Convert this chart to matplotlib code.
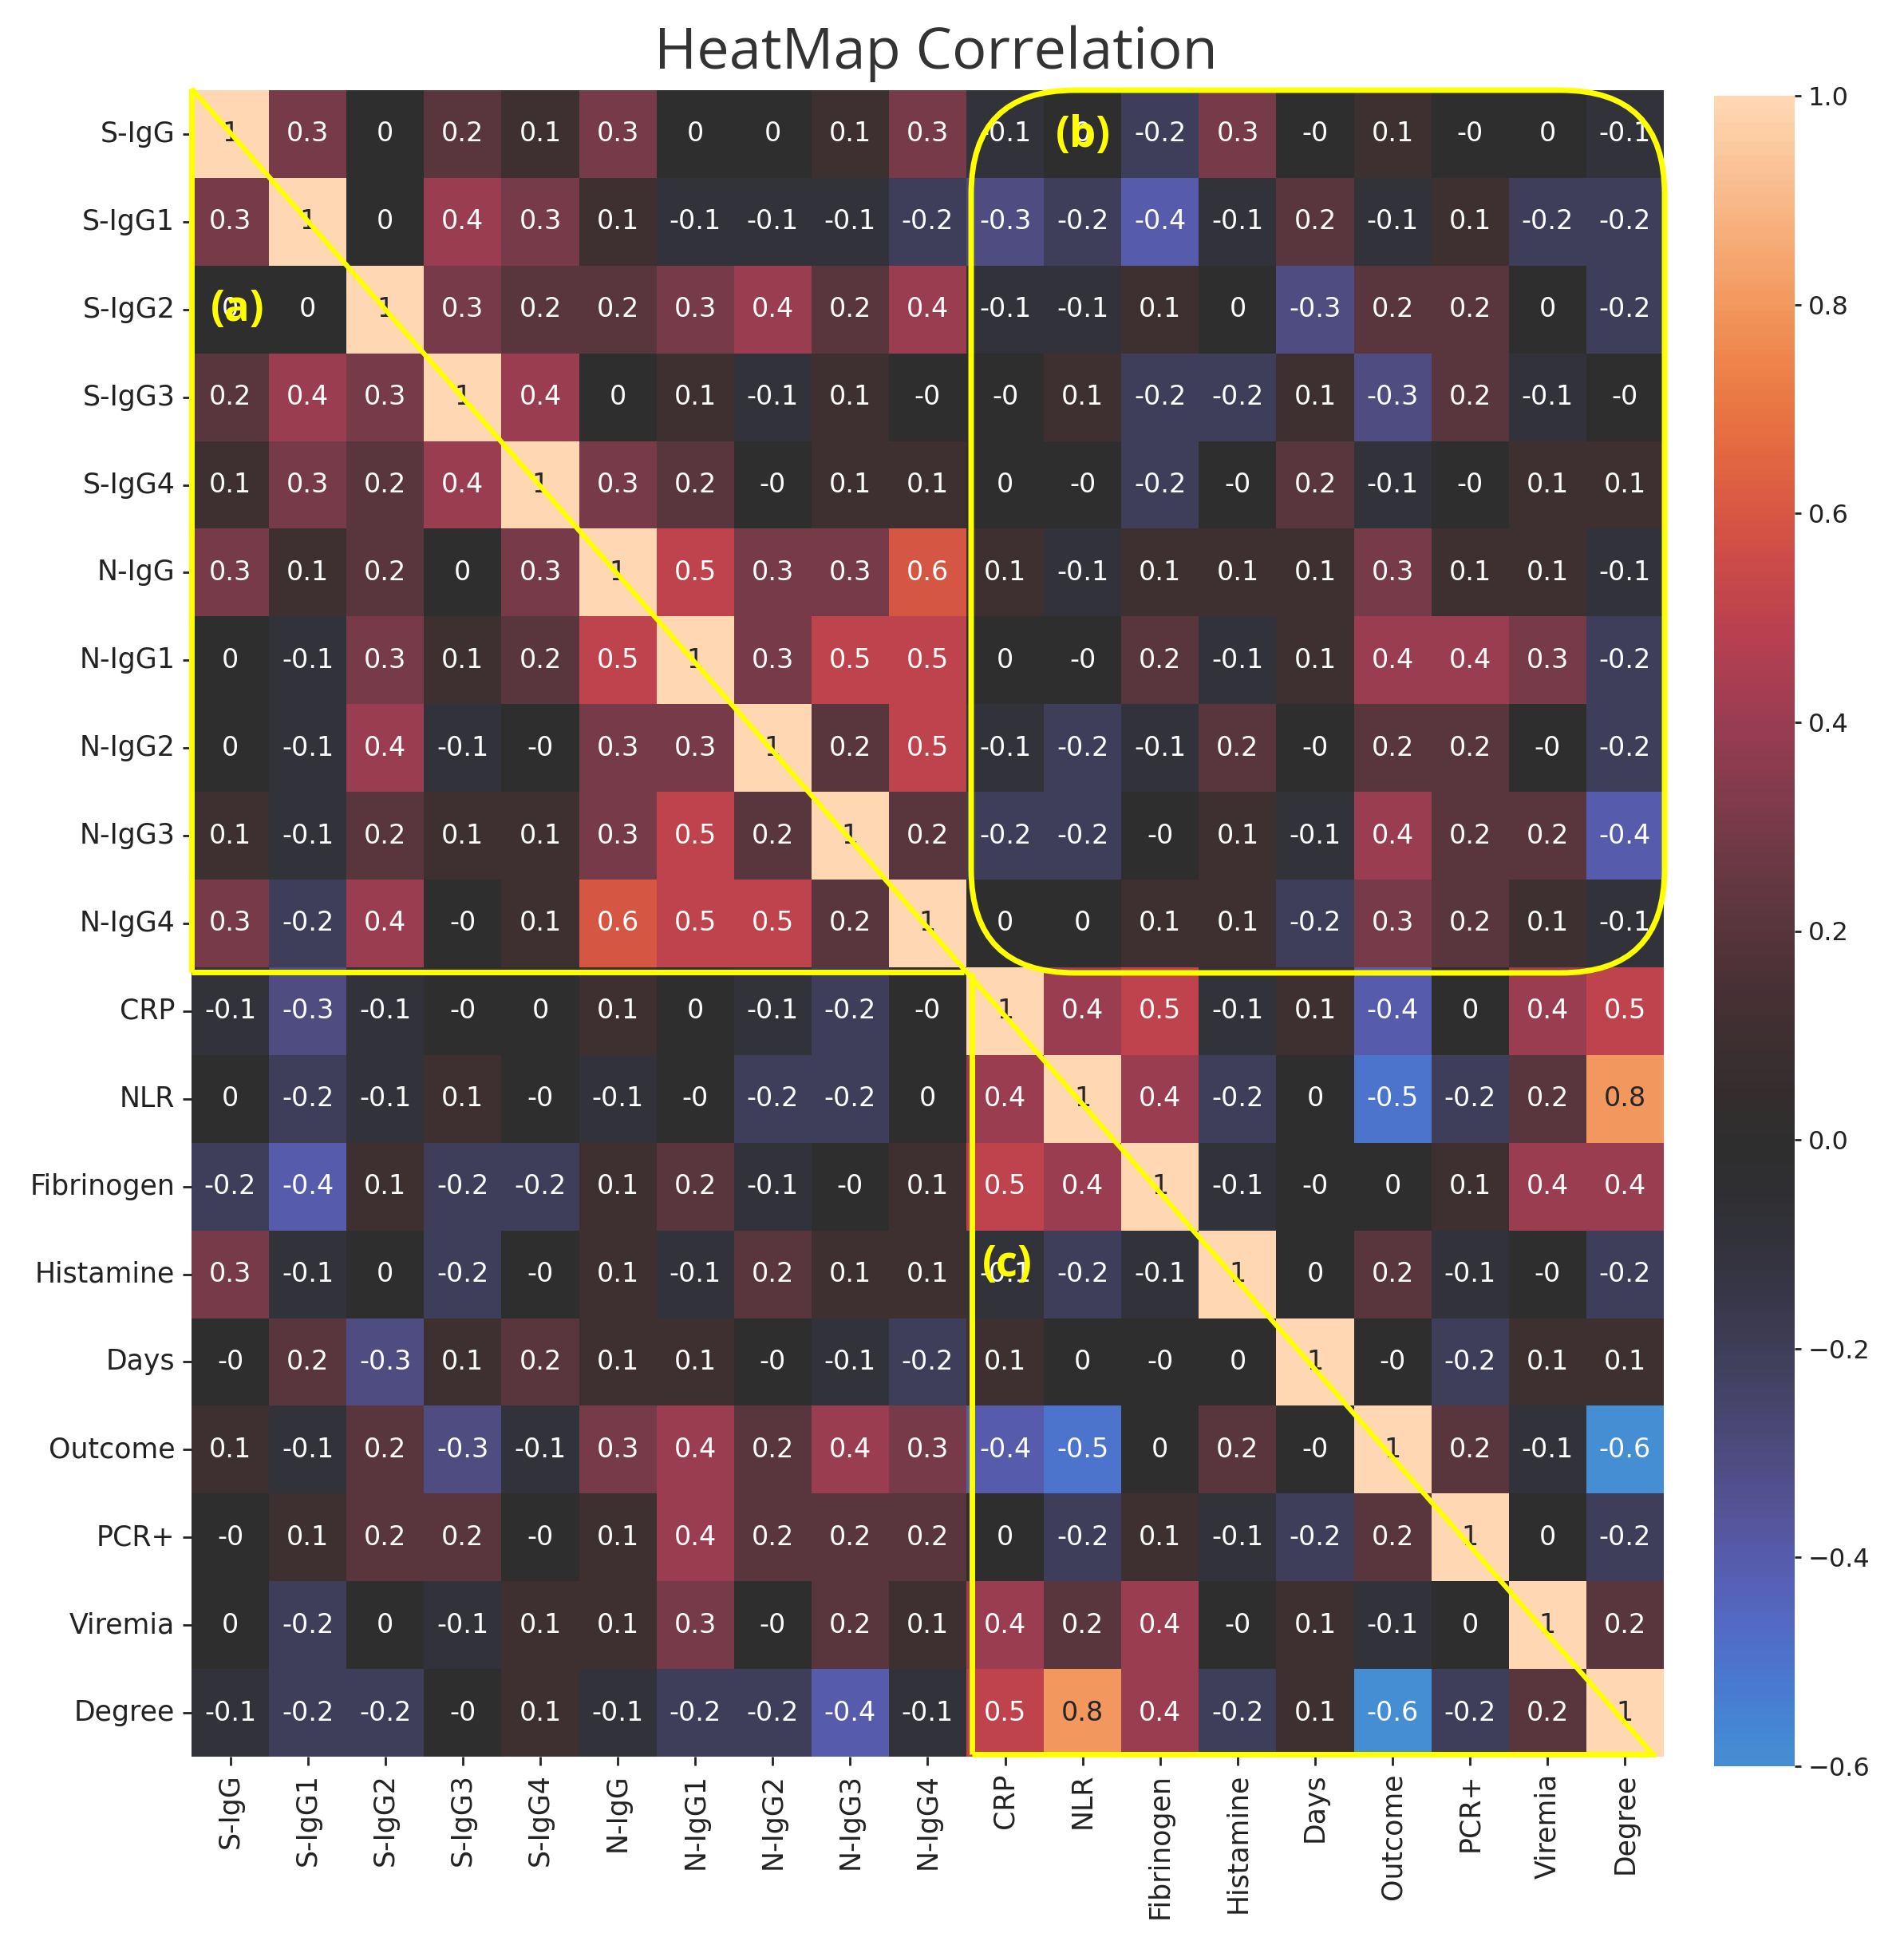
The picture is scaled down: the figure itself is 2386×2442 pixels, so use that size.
import numpy as np
import pandas as pd
import matplotlib
matplotlib.use("Agg")
import matplotlib.pyplot as plt
from matplotlib.patches import FancyBboxPatch
from matplotlib.colors import ListedColormap
import seaborn as sns

labels = ["S-IgG", "S-IgG1", "S-IgG2", "S-IgG3", "S-IgG4", "N-IgG", "N-IgG1",
          "N-IgG2", "N-IgG3", "N-IgG4", "CRP", "NLR", "Fibrinogen", "Histamine",
          "Days", "Outcome", "PCR+", "Viremia", "Degree"]

r_s_igg  = [1, 0.3, 0, 0.2, 0.1, 0.3, 0, 0, 0.1, 0.3, -0.1, 0, -0.2, 0.3, -0.0, 0.1, -0.0, 0, -0.1]
r_s_igg1 = [0.3, 1, 0, 0.4, 0.3, 0.1, -0.1, -0.1, -0.1, -0.2, -0.3, -0.2, -0.4, -0.1, 0.2, -0.1, 0.1, -0.2, -0.2]
r_s_igg2 = [0, 0, 1, 0.3, 0.2, 0.2, 0.3, 0.4, 0.2, 0.4, -0.1, -0.1, 0.1, 0, -0.3, 0.2, 0.2, 0, -0.2]
r_s_igg3 = [0.2, 0.4, 0.3, 1, 0.4, 0, 0.1, -0.1, 0.1, -0.0, -0.0, 0.1, -0.2, -0.2, 0.1, -0.3, 0.2, -0.1, -0.0]
r_s_igg4 = [0.1, 0.3, 0.2, 0.4, 1, 0.3, 0.2, -0.0, 0.1, 0.1, 0, -0.0, -0.2, -0.0, 0.2, -0.1, -0.0, 0.1, 0.1]
r_n_igg  = [0.3, 0.1, 0.2, 0, 0.3, 1, 0.5, 0.3, 0.3, 0.6, 0.1, -0.1, 0.1, 0.1, 0.1, 0.3, 0.1, 0.1, -0.1]
r_n_igg1 = [0, -0.1, 0.3, 0.1, 0.2, 0.5, 1, 0.3, 0.5, 0.5, 0, -0.0, 0.2, -0.1, 0.1, 0.4, 0.4, 0.3, -0.2]
r_n_igg2 = [0, -0.1, 0.4, -0.1, -0.0, 0.3, 0.3, 1, 0.2, 0.5, -0.1, -0.2, -0.1, 0.2, -0.0, 0.2, 0.2, -0.0, -0.2]
r_n_igg3 = [0.1, -0.1, 0.2, 0.1, 0.1, 0.3, 0.5, 0.2, 1, 0.2, -0.2, -0.2, -0.0, 0.1, -0.1, 0.4, 0.2, 0.2, -0.4]
r_n_igg4 = [0.3, -0.2, 0.4, -0.0, 0.1, 0.6, 0.5, 0.5, 0.2, 1, 0, 0, 0.1, 0.1, -0.2, 0.3, 0.2, 0.1, -0.1]
r_crp    = [-0.1, -0.3, -0.1, -0.0, 0, 0.1, 0, -0.1, -0.2, -0.0, 1, 0.4, 0.5, -0.1, 0.1, -0.4, 0, 0.4, 0.5]
r_nlr    = [0, -0.2, -0.1, 0.1, -0.0, -0.1, -0.0, -0.2, -0.2, 0, 0.4, 1, 0.4, -0.2, 0, -0.5, -0.2, 0.2, 0.8]
r_fib    = [-0.2, -0.4, 0.1, -0.2, -0.2, 0.1, 0.2, -0.1, -0.0, 0.1, 0.5, 0.4, 1, -0.1, -0.0, 0, 0.1, 0.4, 0.4]
r_hist   = [0.3, -0.1, 0, -0.2, -0.0, 0.1, -0.1, 0.2, 0.1, 0.1, -0.1, -0.2, -0.1, 1, 0, 0.2, -0.1, -0.0, -0.2]
r_days   = [-0.0, 0.2, -0.3, 0.1, 0.2, 0.1, 0.1, -0.0, -0.1, -0.2, 0.1, 0, -0.0, 0, 1, -0.0, -0.2, 0.1, 0.1]
r_outc   = [0.1, -0.1, 0.2, -0.3, -0.1, 0.3, 0.4, 0.2, 0.4, 0.3, -0.4, -0.5, 0, 0.2, -0.0, 1, 0.2, -0.1, -0.6]
r_pcr    = [-0.0, 0.1, 0.2, 0.2, -0.0, 0.1, 0.4, 0.2, 0.2, 0.2, 0, -0.2, 0.1, -0.1, -0.2, 0.2, 1, 0, -0.2]
r_vir    = [0, -0.2, 0, -0.1, 0.1, 0.1, 0.3, -0.0, 0.2, 0.1, 0.4, 0.2, 0.4, -0.0, 0.1, -0.1, 0, 1, 0.2]
r_deg    = [-0.1, -0.2, -0.2, -0.0, 0.1, -0.1, -0.2, -0.2, -0.4, -0.1, 0.5, 0.8, 0.4, -0.2, 0.1, -0.6, -0.2, 0.2, 1]

rows = [r_s_igg, r_s_igg1, r_s_igg2, r_s_igg3, r_s_igg4, r_n_igg, r_n_igg1, r_n_igg2,
        r_n_igg3, r_n_igg4, r_crp, r_nlr, r_fib, r_hist, r_days, r_outc, r_pcr, r_vir, r_deg]
corr = pd.DataFrame(np.array(rows, dtype=float), index=labels, columns=labels)

cbar_ticks = [-0.6, -0.4, -0.2, 0.0, 0.2, 0.4, 0.6, 0.8, 1.0]

# icefire, slightly lifted in the dark range like the reference image
base = sns.color_palette("icefire", as_cmap=True)
cols = base(np.linspace(0, 1, 256))
cols[:, :3] = 0.93 * cols[:, :3] + 0.07
cmap = ListedColormap(cols)

W, H = 2386, 2442
fig = plt.figure(figsize=(W / 100, H / 100), dpi=100)
fig.patch.set_facecolor("white")

ax = fig.add_axes([240 / W, 1 - 2201 / H, (2085 - 240) / W, (2201 - 113) / H])
cax = fig.add_axes([2148 / W, 1 - 2213 / H, 101 / W, (2213 - 120) / H])

sns.heatmap(corr, annot=True, fmt="g", center=0, cmap=cmap, ax=ax, cbar_ax=cax,
            annot_kws={"size": 24}, cbar_kws={"ticks": cbar_ticks})
ax.set_aspect("auto")
ax.set_xticklabels(labels, rotation=90, fontsize=25)
ax.set_yticklabels(labels, rotation=0, fontsize=25)
ax.tick_params(axis="both", length=8, width=2, pad=7, colors="#222222")
cax.tick_params(labelsize=23, length=6, width=2, pad=6, colors="#222222")

# overlay in pixel coordinates for the annotation shapes
ov = fig.add_axes([0, 0, 1, 1], facecolor="none")
ov.set_xlim(0, W)
ov.set_ylim(H, 0)
ov.axis("off")
yellow = "#FFFF00"
lw = 5
# box (a)
ov.plot([240, 240], [111, 1218], color=yellow, lw=lw, solid_capstyle="butt")
ov.plot([240, 1208], [1218, 1218], color=yellow, lw=lw, solid_capstyle="butt")
# diagonal
ov.plot([240, 2072], [111, 2199], color=yellow, lw=4.5, solid_capstyle="butt")
# box (b)
ov.add_patch(FancyBboxPatch((1217, 113), 2086 - 1217, 1219 - 113,
                            boxstyle="round,pad=0,rounding_size=130",
                            fill=False, edgecolor=yellow, lw=lw))
# box (c)
ov.plot([1218, 1218], [1219, 2198], color=yellow, lw=lw, solid_capstyle="butt")
ov.plot([1218, 2075], [2198, 2198], color=yellow, lw=lw, solid_capstyle="butt")

lab_kw = dict(color=yellow, fontsize=38, fontweight="bold", ha="center", va="center",
              family="Open Sans")
ov.text(298, 388, "(a)", **lab_kw)
ov.text(1357, 170, "(b)", **lab_kw)
ov.text(1262, 1585, "(c)", **lab_kw)

ov.text(1173, 86, "HeatMap Correlation", fontsize=52, color="#333333",
        family="Open Sans", ha="center", va="baseline")

fig.savefig("out.png", dpi=100)
